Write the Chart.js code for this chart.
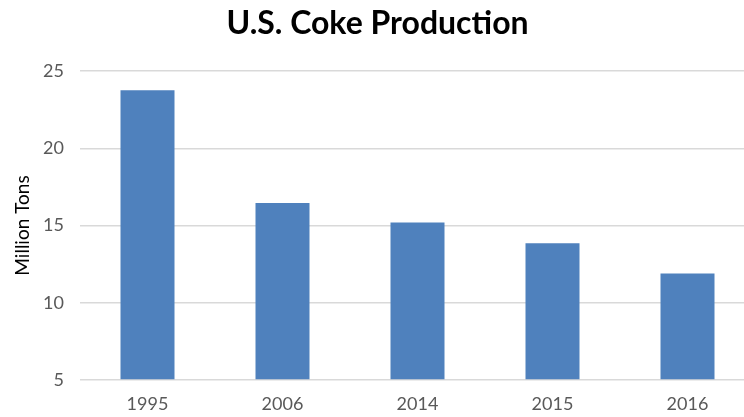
<!DOCTYPE html>
<html>
<head>
<meta charset="utf-8">
<script src="https://cdn.jsdelivr.net/npm/chart.js@4"></script>
<style>
  html, body { margin: 0; padding: 0; background: #fff; overflow: hidden; }
  #wrap { width: 760px; height: 417px; }
</style>
</head>
<body>
<div id="wrap"><canvas id="cokeChart"></canvas></div>
<script>
// data
const years = ["1995", "2006", "2014", "2015", "2016"];
const cokeMillionTons = [23.75, 16.45, 15.2, 13.85, 11.9];
const yMin = 5;
const yMax = 25;
const yStep = 5;

const ctx = document.getElementById("cokeChart").getContext("2d");
new Chart(ctx, {
    type: "bar",
    data: {
        labels: years,
        datasets: [
            {
                label: "U.S. Coke Production",
                data: cokeMillionTons,
                backgroundColor: "#4F81BD",
                borderWidth: 0,
                base: yMin,
                barPercentage: 0.4,
                categoryPercentage: 1,
            },
        ],
    },
    options: {
        responsive: true,
        maintainAspectRatio: false,
        animation: false,
        layout: { padding: { left: 0, right: 5, top: 0, bottom: 3 } },
        plugins: {
            legend: { display: false },
            tooltip: { enabled: false },
            title: {
                display: true,
                text: "U.S. Coke Production",
                color: "#000",
                font: { family: "Lato", size: 32, weight: "bold" },
                padding: { top: 4, bottom: 28.6 },
            },
        },
        scales: {
            x: {
                afterFit: (scale) => { scale.height = 34; },
                grid: { display: false, drawTicks: false },
                border: { display: false },
                ticks: {
                    color: "#595959",
                    font: { family: "Lato", size: 18 },
                    padding: 13,
                },
            },
            y: {
                min: yMin,
                max: yMax,
                afterFit: (scale) => { scale.width = 80; },
                grid: { color: "#D9D9D9", lineWidth: 1.5, drawTicks: false },
                border: { display: false },
                ticks: {
                    stepSize: yStep,
                    color: "#595959",
                    font: { family: "Lato", size: 18 },
                    padding: 16,
                },
                title: {
                    display: true,
                    text: "Million Tons",
                    color: "#000",
                    font: { family: "Lato", size: 19 },
                    padding: { top: 11, bottom: 0 },
                },
            },
        },
    },
});
</script>
</body>
</html>
